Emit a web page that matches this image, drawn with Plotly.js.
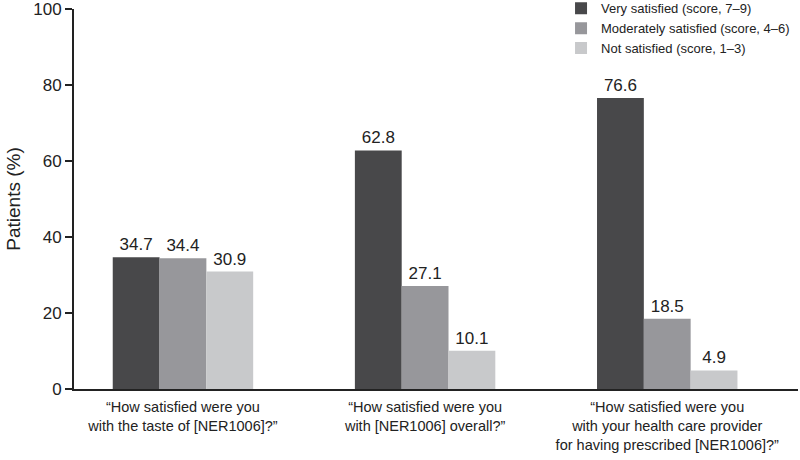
<!DOCTYPE html>
<html>
<head>
<meta charset="utf-8">
<script src="https://cdn.plot.ly/plotly-3.0.1.min.js"></script>
<style>html,body{margin:0;padding:0;background:#fff;}#chart{width:800px;height:460px;}</style>
</head>
<body>
<div id="chart"></div>
<script>
const categories = [
  "“How satisfied were you<br>with the taste of [NER1006]?”",
  "“How satisfied were you<br>with [NER1006] overall?”",
  "“How satisfied were you<br>with your health care provider<br>for having prescribed [NER1006]?”"
];
const seriesNames = ["Very satisfied (score, 7–9)", "Moderately satisfied (score, 4–6)", "Not satisfied (score, 1–3)"];
const verySatisfied = [34.7, 62.8, 76.6];
const moderatelySatisfied = [34.4, 27.1, 18.5];
const notSatisfied = [30.9, 10.1, 4.9];
const colors = ["#48484a", "#97979b", "#c8c9cb"];
const yTicks = [0, 20, 40, 60, 80, 100];

const values = [verySatisfied, moderatelySatisfied, notSatisfied];
const traces = values.map((v, i) => ({
  type: "bar",
  name: seriesNames[i],
  x: categories,
  y: v,
  marker: {color: colors[i], line: {width: 0}},
  text: v.map(n => n.toFixed(1)),
  textposition: "outside",
  textfont: {family: "Liberation Sans, Arial, sans-serif", size: 17, color: "#222"},
  cliponaxis: false,
  hoverinfo: "none"
}));

const layout = {
  width: 800, height: 460,
  margin: {l: 74, r: 2, t: 9, b: 71, autoexpand: false},
  paper_bgcolor: "#fff", plot_bgcolor: "#fff",
  font: {family: "Liberation Sans, Arial, sans-serif", color: "#222"},
  barmode: "group",
  bargap: 0.42,
  bargroupgap: 0,
  showlegend: true,
  legend: {
    x: 0.6727, xanchor: "left", y: 1.0413, yanchor: "top",
    font: {size: 13, color: "#222"},
    bgcolor: "rgba(0,0,0,0)",
    itemclick: false, tracegroupgap: 0
  },
  xaxis: {
    type: "category",
    range: [-0.45, 2.54],
    showline: true, linecolor: "#222", linewidth: 2,
    ticks: "", showgrid: false, zeroline: false,
    tickfont: {size: 14.5, color: "#222"},
    tickangle: 0,
    ticklabelstandoff: 4,
    automargin: false
  },
  yaxis: {
    range: [0, 100.02],
    tickvals: yTicks,
    ticktext: yTicks.map(String),
    ticklabeloverflow: "allow",
    showline: true, linecolor: "#222", linewidth: 2,
    ticks: "outside", ticklen: 7, tickwidth: 2, tickcolor: "#222",
    showgrid: false, zeroline: false,
    tickfont: {size: 17, color: "#222"},
    title: {text: "Patients (%)", font: {size: 19, color: "#222"}, standoff: 8},
    automargin: false
  }
};

Plotly.newPlot("chart", traces, layout, {displayModeBar: false, staticPlot: true});
</script>
</body>
</html>
